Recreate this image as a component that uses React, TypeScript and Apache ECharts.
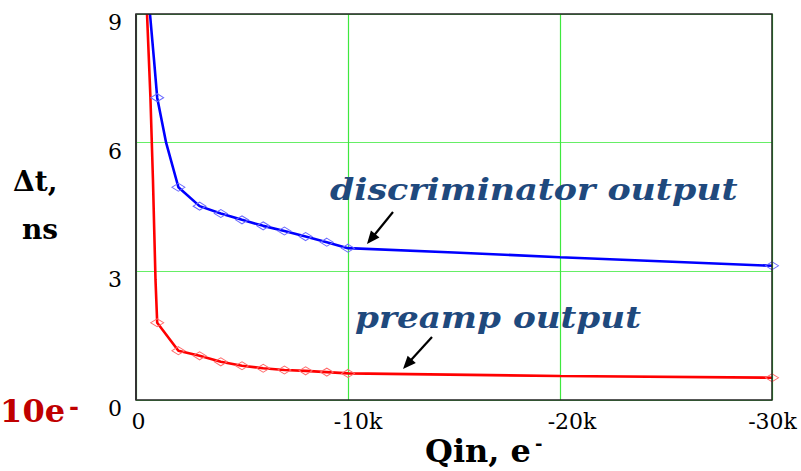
import React, { useEffect, useRef } from "react";
import * as echarts from "echarts";

// ---- data (charge in electrons, negative; delay in ns) ----
const blueQ = [-660, -850, -1000, -1420, -2000, -3000, -4000, -5000, -6000, -7000, -8000, -9000, -10000, -15000, -20000, -25000, -30000];
const blueT = [9.0, 7.93, 7.05, 6.0, 4.96, 4.52, 4.35, 4.2, 4.06, 3.94, 3.81, 3.68, 3.54, 3.44, 3.33, 3.23, 3.13];
const blueMarked = [false, false, true, false, true, true, true, true, true, true, true, true, true, false, false, false, true];

const redQ = [-520, -680, -800, -860, -920, -1000, -2000, -3000, -4000, -5000, -6000, -7000, -8000, -9000, -10000, -20000, -30000];
const redT = [9.0, 7.06, 5.13, 3.96, 2.8, 1.8, 1.15, 1.03, 0.89, 0.8, 0.74, 0.7, 0.68, 0.65, 0.62, 0.56, 0.52];
const redMarked = [false, false, false, false, false, true, true, true, true, true, true, true, true, true, true, false, true];

const xTicks = [0, -10000, -20000, -30000];
const xTickLabels = ["0", "-10k", "-20k", "-30k"];
const yTicks = [0, 3, 6, 9];

const SERIF = "'DejaVu Serif', 'Liberation Serif', serif";
const NOTE = "#1F497D";

function build(q: number[], t: number[], m: boolean[]) {
  return q.map((x, i) => (m[i] ? { value: [x, t[i]] } : { value: [x, t[i]], symbol: "none" }));
}

function arrow(x1: number, y1: number, x2: number, y2: number) {
  const dx = x2 - x1, dy = y2 - y1;
  const len = Math.sqrt(dx * dx + dy * dy);
  const ux = dx / len, uy = dy / len;
  const hl = 13, hw = 5.5;
  const bx = x2 - ux * hl, by = y2 - uy * hl;
  return [
    { type: "line", z: 120, shape: { x1, y1, x2: bx + ux * 2, y2: by + uy * 2 }, style: { stroke: "#000", lineWidth: 2.2 } },
    {
      type: "polygon", z: 120,
      shape: { points: [[x2, y2], [bx - uy * hw, by + ux * hw], [bx + uy * hw, by - ux * hw]] },
      style: { fill: "#000" },
    },
  ];
}

export default function App() {
  const ref = useRef<HTMLDivElement>(null);
  useEffect(() => {
    if (!ref.current) return;
    const chart = echarts.init(ref.current, null, { renderer: "svg" });
    const shift: Record<string, number> = { "0": 5, "-10k": 20, "-20k": 24, "-30k": 1 };
    const rich: any = {};
    xTickLabels.forEach((s, i) => {
      rich["k" + i] = { fontFamily: SERIF, fontSize: 22, color: "#000", padding: [0, 0, 0, shift[s]] };
    });
    chart.setOption({
      animation: false,
      backgroundColor: "#fff",
      grid: { left: 136, top: 14, width: 636, height: 386, containLabel: false },
      xAxis: {
        type: "value",
        min: -30000,
        max: 0,
        interval: 10000,
        inverse: true,
        axisLine: { show: false },
        axisTick: { show: false },
        splitLine: { show: true, lineStyle: { color: "#3ee83e", width: 1.2 } },
        axisLabel: {
          margin: 10,
          formatter: (v: number) => {
            const i = xTicks.indexOf(v);
            return i < 0 ? "" : `{k${i}|${xTickLabels[i]}}`;
          },
          rich,
        },
      },
      yAxis: {
        type: "value",
        min: 0,
        max: 9,
        interval: 3,
        axisLine: { show: false },
        axisTick: { show: false },
        splitLine: { show: true, lineStyle: { color: "#66ee66", width: 1 } },
        axisLabel: {
          margin: 14,
          fontFamily: SERIF,
          fontSize: 22,
          color: "#000",
          verticalAlign: "top",
          lineHeight: 17,
          formatter: (v: number) => (yTicks.includes(v) ? String(v) : ""),
        },
      },
      series: [
        {
          name: "discriminator output",
          type: "line",
          data: build(blueQ, blueT, blueMarked),
          symbol: "diamond",
          symbolSize: [13, 8],
          showAllSymbol: true,
          clip: true,
          lineStyle: { color: "#0000ff", width: 2.6 },
          itemStyle: { color: "rgba(255,255,255,0)", borderColor: "#6a6aff", borderWidth: 1 },
          z: 5,
        },
        {
          name: "preamp output",
          type: "line",
          data: build(redQ, redT, redMarked),
          symbol: "diamond",
          symbolSize: [13, 8],
          showAllSymbol: true,
          clip: true,
          lineStyle: { color: "#ff0000", width: 2.6 },
          itemStyle: { color: "rgba(255,255,255,0)", borderColor: "#ff6a6a", borderWidth: 1 },
          z: 5,
        },
      ],
      graphic: [
        { type: "rect", z: 110, shape: { x: 136, y: 14, width: 636, height: 386 }, style: { fill: "none", stroke: "#222", lineWidth: 1.5 } },
        { type: "line", z: 111, shape: { x1: 136, y1: 14, x2: 136, y2: 400 }, style: { stroke: "#333", lineWidth: 2 } },
        { type: "text", z: 120, x: 330, y: 190, scaleX: 1.2, style: { text: "discriminator output", font: `italic bold 29px ${SERIF}`, fill: NOTE, verticalAlign: "middle", align: "left" } },
        { type: "text", z: 120, x: 355, y: 317, scaleX: 1.18, style: { text: "preamp output", font: `italic bold 29px ${SERIF}`, fill: NOTE, verticalAlign: "middle", align: "left" } },
        ...arrow(393, 212, 367, 244),
        ...arrow(432, 337, 403, 369),
        { type: "text", z: 120, x: 13, y: 181, style: { text: "Δt,", font: `bold 28px ${SERIF}`, fill: "#000", verticalAlign: "middle", align: "left" } },
        { type: "text", z: 120, x: 22, y: 229, style: { text: "ns", font: `bold 28px ${SERIF}`, fill: "#000", verticalAlign: "middle", align: "left" } },
        { type: "text", z: 120, x: 425, y: 451, style: { text: "Qin, e", font: `bold 32px ${SERIF}`, fill: "#000", verticalAlign: "middle", align: "left" } },
        { type: "text", z: 120, x: 535, y: 443, style: { text: "-", font: `bold 18px ${SERIF}`, fill: "#000", verticalAlign: "middle", align: "left" } },
        { type: "text", z: 120, x: 65, y: 411, style: { text: "10e", font: `bold 32px ${SERIF}`, fill: "#C00000", verticalAlign: "middle", align: "right" } },
        { type: "text", z: 120, x: 69, y: 406, style: { text: "-", font: `bold 24px ${SERIF}`, fill: "#C00000", verticalAlign: "middle", align: "left" } },
      ],
    });
    return () => chart.dispose();
  }, []);
  return <div ref={ref} style={{ width: 801, height: 471, position: "absolute", left: 0, top: 0 }} />;
}
